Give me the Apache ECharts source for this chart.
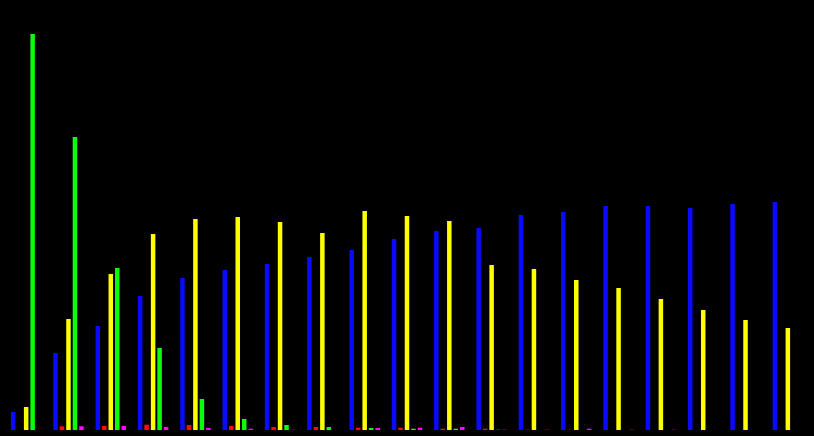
<!DOCTYPE html>
<html>
<head>
<meta charset="utf-8">
<script src="https://cdn.jsdelivr.net/npm/echarts@6/dist/echarts.min.js"></script>
<style>html,body{margin:0;padding:0;background:#000;}#c{width:814px;height:436px;}</style>
</head>
<body>
<div id="c"></div>
<script>
var categories = ['1','2','3','4','5','6','7','8','9','10','11','12','13','14','15','16','17','18','19'];
var blueValues    = [18, 77, 104, 134, 152, 160, 166, 173, 180, 191, 199, 202, 215, 218, 224, 224, 222, 226, 228];
var redValues     = [0, 3.7, 4, 5.3, 5, 4, 3, 3, 2.3, 2.3, 1.3, 1.3, 0.8, 0.8, 0, 0, 0, 0, 0];
var yellowValues  = [23, 111, 156, 196, 211, 213, 208, 197, 219, 214, 209, 165, 161, 150, 142, 131, 120, 110, 102];
var greenValues   = [396, 293, 162, 82, 31, 11, 5, 3, 2, 1.3, 1.3, 0.8, 0, 0, 0, 0, 0, 0, 0];
var magentaValues = [0, 3.7, 4, 3, 2, 1.3, 0.8, 0, 2, 2.3, 3, 0.8, 0.8, 1.3, 0.8, 0.8, 0, 0, 0];
// entries drawn dimmed in the reference: [seriesName, categoryIndex]
var dimEntries = [['red',12],['red',13],['green',11],['magenta',6],['magenta',11],['magenta',12],['magenta',14],['magenta',15]];

var seriesDefs = [
  {name:'blue', color:'#0a0aff', values: blueValues},
  {name:'red', color:'#ff0a0a', values: redValues},
  {name:'yellow', color:'#ffff00', values: yellowValues},
  {name:'green', color:'#0aff0a', values: greenValues},
  {name:'magenta', color:'#ff0aff', values: magentaValues}
];

function isDim(name, i){
  for (var k=0;k<dimEntries.length;k++){ if(dimEntries[k][0]===name && dimEntries[k][1]===i) return true; }
  return false;
}

var series = seriesDefs.map(function(s){
  return {
    type:'bar',
    name:s.name,
    barWidth:4.5,
    barGap:'44%',
    itemStyle:{color:s.color},
    data:s.values.map(function(v,i){
      if (!v) return null;
      return isDim(s.name,i) ? {value:v, itemStyle:{opacity:0.3}} : v;
    })
  };
});

var chart = echarts.init(document.getElementById('c'));
chart.setOption({
  backgroundColor:'#000',
  animation:false,
  grid:{left:5, right:5, top:34, bottom:6},
  xAxis:{type:'category', data:categories, axisLine:{show:false}, axisTick:{show:false}, axisLabel:{show:false}, splitLine:{show:false}},
  yAxis:{type:'value', min:0, max:396, axisLine:{show:false}, axisTick:{show:false}, axisLabel:{show:false}, splitLine:{show:false}},
  series:series
});
</script>
</body>
</html>
